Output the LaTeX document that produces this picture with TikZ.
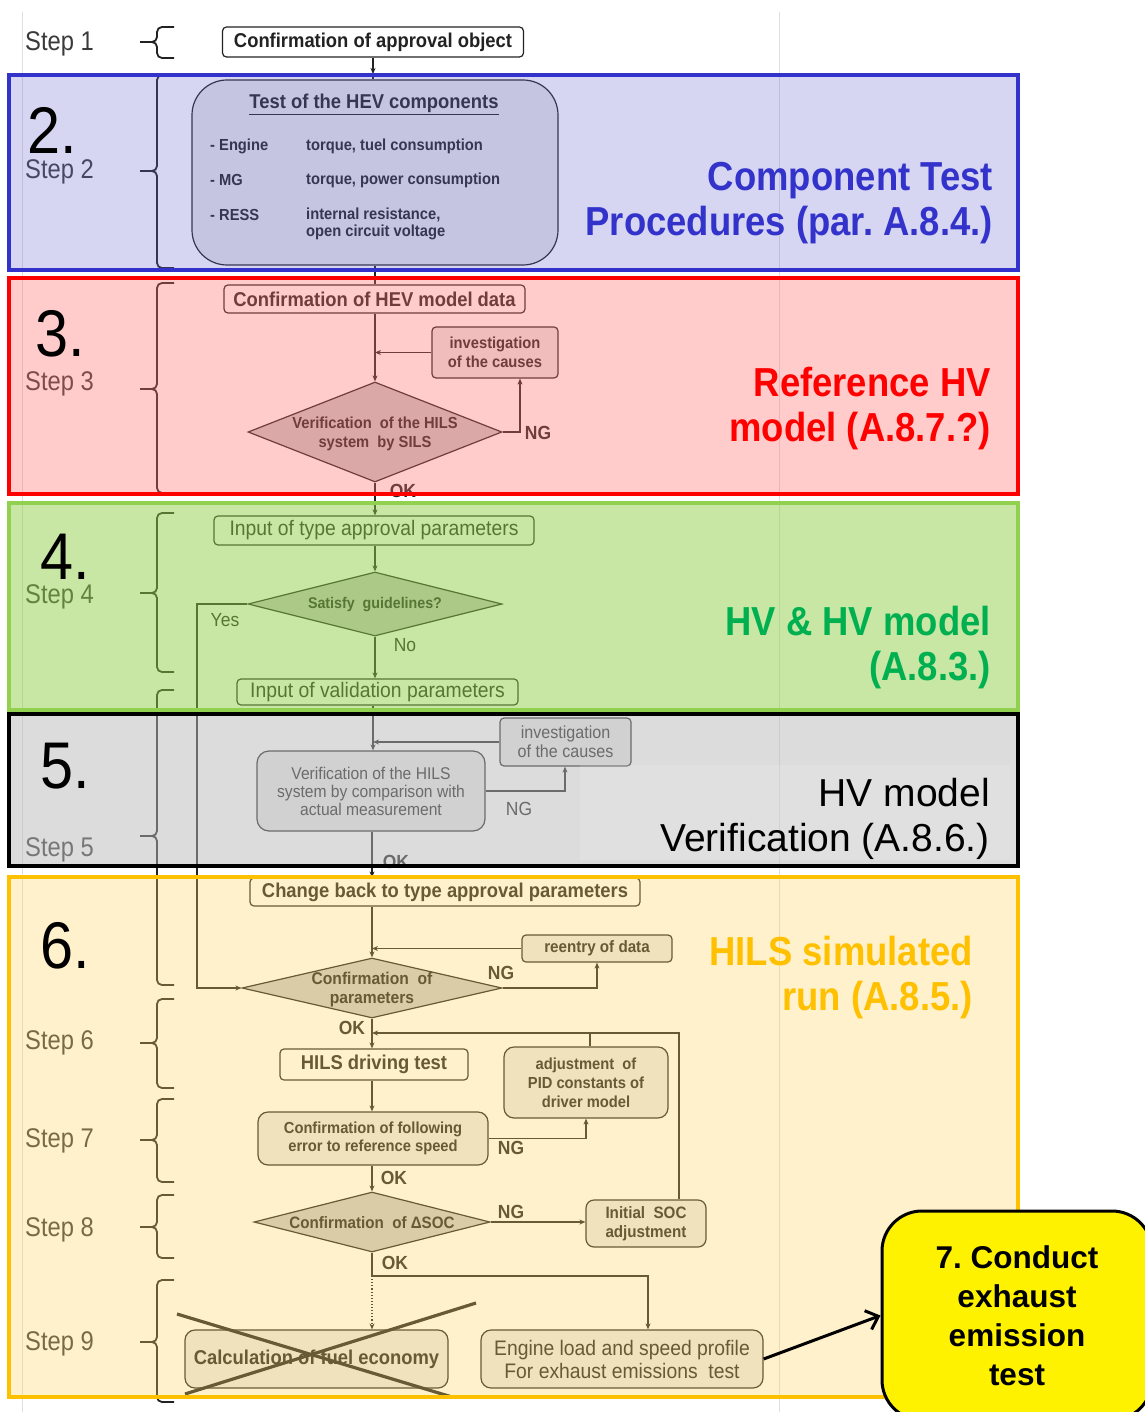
\documentclass[tikz,border=0pt]{standalone}
\usepackage{fontspec}
\setmainfont{Liberation Sans}
\newfontfamily\flowf[FakeStretch=0.92]{Liberation Sans}
\newfontfamily\stepf[FakeStretch=0.88]{Liberation Sans}
\newfontfamily\labf[FakeStretch=0.9]{Liberation Sans}
\usetikzlibrary{shapes.geometric,arrows.meta,calc}
\frenchspacing
\definecolor{ink}{HTML}{222222}
\definecolor{boxg}{HTML}{E8E8E8}
\definecolor{diag}{HTML}{C8C8C8}
\definecolor{ovblue}{RGB}{108,108,209}
\definecolor{ovred}{RGB}{255,110,110}
\definecolor{ovgreen}{RGB}{143,204,71}
\definecolor{ovgray}{RGB}{185,185,185}
\definecolor{ovorange}{RGB}{255,213,92}
\definecolor{bdblue}{HTML}{3333CC}
\definecolor{bdred}{HTML}{FF0000}
\definecolor{bdgreen}{HTML}{92D050}
\definecolor{bdorange}{HTML}{FFC000}
\definecolor{txgreen}{HTML}{00B050}
\definecolor{steptx}{HTML}{3A3A3A}
\newcommand{\fsz}[2]{\fontsize{#1}{#2}\selectfont}
\newcommand{\stepbrace}[3]{%
  \draw[bracestyle] (174,#1) -- (157,#1) -- (157,#2) -- (140,#2);
  \draw[bracestyle] (140,#2) -- (157,#2) -- (157,#3) -- (174,#3);}
\tikzset{
  lin/.style={draw=ink, line width=1.1pt},
  arr/.style={lin, -{Stealth[length=6pt,width=5pt]}},
  fbox/.style={draw=ink, line width=1.2pt, rounded corners=4pt, fill=white, inner sep=0pt, align=center, text=ink},
  gbox/.style={fbox, fill=boxg},
  dia/.style={diamond, draw=ink, line width=1.2pt, fill=diag, inner sep=0pt},
  dtext/.style={align=center, text=ink, inner sep=0pt},
  yn/.style={text=ink, inner sep=0pt, font=\flowf\bfseries\fsz{19}{19}},
  ynr/.style={text=ink, inner sep=0pt, font=\flowf\fsz{19}{19}},
  bracestyle/.style={draw=ink, line width=1.8pt, rounded corners=5pt},
  steplab/.style={anchor=west, text=steptx, inner sep=0pt, font=\stepf\fsz{27}{27}},
  bignum/.style={anchor=west, text=black, inner sep=0pt, text depth=0pt, font=\labf\fsz{66}{66}},
  bandlab/.style={anchor=east, inner sep=0pt, font=\labf\bfseries\fsz{40.5}{45}, align=right},
  band/.style={line width=4pt},
  xline/.style={draw=ink, line width=3.2pt},
}
\begin{document}
\begin{tikzpicture}[x=1pt,y=-1pt]
\useasboundingbox (0,0) rectangle (1144,1412);
\fill[white] (0,0) rectangle (1144,1412);
% page lines
\draw[gray!25, line width=0.8pt] (22,12) -- (22,1412);
\draw[gray!25, line width=0.8pt] (779,12) -- (779,1412);

% step labels and braces
\node[steplab] (s1) at (25,44) {Step 1};
\node[steplab] (s2) at (25,172) {Step 2};
\node[steplab] (s3) at (25,384) {Step 3};
\node[steplab] (s4) at (25,597) {Step 4};
\node[steplab] (s5) at (25,850) {Step 5};
\node[steplab] (s6) at (25,1043) {Step 6};
\node[steplab] (s7) at (25,1141) {Step 7};
\node[steplab] (s8) at (25,1230) {Step 8};
\node[steplab] (s9) at (25,1344) {Step 9};
\stepbrace{27}{42}{58}
\stepbrace{75}{171}{268}
\stepbrace{283}{389}{493}
\stepbrace{513}{593}{672}
\stepbrace{690}{836}{985}
\stepbrace{999}{1043}{1088}
\stepbrace{1099}{1140}{1182}
\stepbrace{1195}{1227}{1258}
\stepbrace{1280}{1342}{1402}

% ---------- flowchart ----------
\node[fbox, minimum width=301pt, minimum height=30pt, font=\flowf\bfseries\fsz{20}{22}] (n1) at (373,42) {Confirmation of approval object};
\node[gbox, rounded corners=35pt, minimum width=366pt, minimum height=185pt] (n2) at (375,172.5) {};
\node[dtext, font=\flowf\bfseries\fsz{20}{22}] (n2t) at (374,104) {\underline{Test of the HEV components}};
\node[dtext, anchor=west, font=\flowf\bfseries\fsz{16}{17}] (i1) at (210,146) {- Engine};
\node[dtext, anchor=west, font=\flowf\bfseries\fsz{16}{17}] (v1) at (306,146) {torque, tuel consumption};
\node[dtext, anchor=west, font=\flowf\bfseries\fsz{16}{17}] (i2) at (210,180) {- MG};
\node[dtext, anchor=west, font=\flowf\bfseries\fsz{16}{17}] (v2) at (306,180) {torque, power consumption};
\node[dtext, anchor=west, font=\flowf\bfseries\fsz{16}{17}] (i3) at (210,215) {- RESS};
\node[dtext, anchor=west, align=left, font=\flowf\bfseries\fsz{16}{16.5}] (v3) at (306,224) {internal resistance,\\open circuit voltage};

\node[fbox, minimum width=301pt, minimum height=28pt, font=\flowf\bfseries\fsz{20}{22}] (n3) at (374.5,299) {Confirmation of HEV model data};
\node[gbox, minimum width=126pt, minimum height=51pt, font=\flowf\bfseries\fsz{16}{19}] (n4) at (495,352.5) {investigation\\of the causes};
\node[dia, minimum width=254pt, minimum height=100pt] (d1) at (375,432) {};
\node[dtext, font=\flowf\bfseries\fsz{16}{19}] (d1t) at (375,434) {Verification \ of the HILS\\system \ by SILS};

\node[fbox, minimum width=320pt, minimum height=29pt, font=\flowf\fsz{21}{22}] (n5) at (374,530.5) {Input of type approval parameters};
\node[dia, minimum width=254pt, minimum height=64pt] (d2) at (375,604) {};
\node[dtext, font=\flowf\bfseries\fsz{15.5}{17}] (d2t) at (375,605) {Satisfy \ guidelines?};
\node[fbox, minimum width=281pt, minimum height=26pt, font=\flowf\fsz{21}{22}] (n6) at (377.5,692) {Input of validation parameters};

\node[gbox, minimum width=131pt, minimum height=48pt, font=\flowf\fsz{17.5}{19}] (n7) at (565.5,742) {investigation\\of the causes};
\node[gbox, rounded corners=12pt, minimum width=228pt, minimum height=80pt, font=\flowf\fsz{17}{18}] (n8) at (371,791) {Verification of the HILS\\system by comparison with\\actual measurement};

\node[fbox, minimum width=390pt, minimum height=28pt, font=\flowf\bfseries\fsz{20}{22}] (n9) at (445,892) {Change back to type approval parameters};
\node[gbox, minimum width=150pt, minimum height=27pt, font=\flowf\bfseries\fsz{16.5}{18}] (n10) at (597,948.5) {reentry of data};
\node[dia, minimum width=260pt, minimum height=60pt] (d3) at (372,988) {};
\node[dtext, font=\flowf\bfseries\fsz{17}{19}] (d3t) at (372,990) {Confirmation \ of\\parameters};

\node[fbox, minimum width=188pt, minimum height=31pt, font=\flowf\bfseries\fsz{20}{22}] (n11) at (374,1064.5) {HILS driving test};
\node[gbox, rounded corners=10pt, minimum width=164pt, minimum height=71pt, font=\flowf\bfseries\fsz{16}{19}] (n12) at (586,1082.5) {adjustment \ of\\PID constants of\\driver model};
\node[gbox, rounded corners=10pt, minimum width=230pt, minimum height=53pt, font=\flowf\bfseries\fsz{16}{18.5}] (n13) at (373,1138.5) {Confirmation of following\\error to reference speed};
\node[dia, minimum width=236pt, minimum height=60pt] (d4) at (372,1222) {};
\node[dtext, font=\flowf\bfseries\fsz{16.5}{18}] (d4t) at (372,1223) {Confirmation \ of ΔSOC};
\node[gbox, rounded corners=8pt, minimum width=120pt, minimum height=47pt, font=\flowf\bfseries\fsz{16.5}{19}] (n14) at (646,1223.5) {Initial \ SOC\\adjustment};

\node[gbox, rounded corners=10pt, minimum width=263pt, minimum height=58pt, font=\flowf\bfseries\fsz{20}{22}] (n15) at (316.5,1359) {Calculation of fuel economy};
\node[gbox, rounded corners=10pt, minimum width=282pt, minimum height=58pt, font=\flowf\fsz{21}{23}] (n16) at (622,1359) {Engine load and speed profile\\For exhaust emissions \ test};

% coordinates
\coordinate (mx) at (373,0);
\coordinate (mx2) at (372,0);
\coordinate (yesx) at (197,0);
\coordinate (ng3) at (520,0);
\coordinate (ng5) at (565,0);
\coordinate (loopy) at (0,1033);
\coordinate (loopx) at (679,0);
\coordinate (pidx) at (590,0);
\coordinate (split) at (372,1276);
\coordinate (engx) at (648,0);
\coordinate (bluetop) at (0,74);

% connectors
\draw[arr] (n1.south) -- (n1.south |- bluetop);
\draw[lin] (n1.south |- bluetop) -- (n1.south |- n2.north);
\draw[lin] (n2.south) -- (n2.south |- n3.north);
\draw[arr] (n3.south -| d1.north) -- (d1.north);
\draw[arr] (n4.west) -- (n4.west -| d1.north);
\draw[arr] (d1.east) -| (n4.south -| ng3);
\draw[arr] (d1.south) -- (d1.south |- n5.north);
\draw[arr] (n5.south -| d2.north) -- (d2.north);
\draw[arr] (d2.south) -- (d2.south |- n6.north);
\draw[arr] (d2.west) -- (d2.west -| yesx) -- (yesx |- d3.west) -- (d3.west);
\draw[arr] (n6.south -| mx) -- (n8.north -| mx);
\draw[arr] (n7.west) -- (n7.west -| mx);
\draw[arr] (n8.east) -| (n7.south -| ng5);
\draw[arr] (n8.south -| mx2) -- (n9.north -| mx2);
\draw[arr] (n9.south -| mx2) -- (d3.north);
\draw[arr] (n10.west) -- (n10.west -| mx2);
\draw[arr] (d3.east) -| (n10.south);
\draw[arr] (d3.south) -- (n11.north -| d3.south);
\draw[arr] (n14.north -| loopx) -- (loopx |- loopy) -- (loopy -| mx2);
\draw[lin] (n12.north -| pidx) -- (pidx |- loopy);
\draw[arr] (n11.south -| mx2) -- (n13.north -| mx2);
\draw[arr] (n13.east) -| (n12.south);
\draw[arr] (n13.south -| mx2) -- (d4.north);
\draw[arr] (d4.east) -- (n14.west |- d4.east);
\draw[lin] (d4.south) -- (split);
\draw[arr, dotted] (split) -- (n15.north -| split);
\draw[arr] (split) -- (split -| engx) -- (n16.north -| engx);

% labels
\node[yn] (l1) at (538,433) {NG};
\node[yn] (l2) at (403,491) {OK};
\node[ynr] (l3) at (225,620) {Yes};
\node[ynr] (l4) at (405,645) {No};
\node[ynr] (l5) at (519,809) {NG};
\node[yn] (l6) at (396,862) {OK};
\node[yn] (l7) at (501,973) {NG};
\node[yn] (l8) at (352,1028) {OK};
\node[yn] (l9) at (511,1148) {NG};
\node[yn] (l10) at (394,1178) {OK};
\node[yn] (l11) at (511,1212) {NG};
\node[yn] (l12) at (395,1263) {OK};

% cross-out
\draw[xline] (177,1314) -- (452,1397);
\draw[xline] (476,1303) -- (185,1394);

% ---------- band overlays ----------
\fill[ovblue, fill opacity=0.28] (9,75) rectangle (1018,270);
\fill[ovred, fill opacity=0.353] (9,278) rectangle (1018,494);
\fill[ovgreen, fill opacity=0.49] (9,503) rectangle (1018,710);
\fill[ovgray, fill opacity=0.486] (9,714) rectangle (1018,866);
\fill[white, fill opacity=0.12] (580,765) rectangle (1010,860);
\fill[ovorange, fill opacity=0.314] (9,877) rectangle (1018,1397);
\draw[band, bdblue] (9,75) rectangle (1018,270);
\draw[band, bdred] (9,278) rectangle (1018,494);
\draw[band, bdgreen] (9,503) rectangle (1018,710);
\draw[band, black] (9,714) rectangle (1018,866);
\draw[band, bdorange] (9,877) rectangle (1018,1397);

% big numbers
\node[bignum] (b2) at (27,130) {2.};
\node[bignum] (b3) at (35,333) {3.};
\node[bignum] (b4) at (40,557) {4.};
\node[bignum] (b5) at (40,766) {5.};
\node[bignum] (b6) at (40,945) {6.};

% band labels
\node[bandlab, text=bdblue] (t1) at (993,203.5) {Component Test\\Procedures (par. A.8.4.)};
\node[bandlab, text=bdred] (t2) at (991,408.5) {Reference HV\\model (A.8.7.?)};
\node[bandlab, text=txgreen] (t3) at (991,648) {HV \& HV model\\(A.8.3.)};
\node[anchor=east, inner sep=0pt, align=right, text=black, font=\fsz{39}{45}] (t4) at (990,818.5) {HV model\\Verification (A.8.6.)};
\node[bandlab, text=bdorange] (t5) at (973,977.5) {HILS simulated\\run (A.8.5.)};

% final box
\node[draw=black, line width=3pt, fill=yellow, rounded corners=40pt, minimum width=270pt, minimum height=209pt, inner sep=0pt, align=center, font=\bfseries\fsz{31.5}{39}] (n17) at (1017,1315.5) {7. Conduct\\exhaust\\emission\\test};
\draw[black, line width=3pt, -{Straight Barb[length=11pt,width=20pt]}] (n16.east) -- (n17.west);
\end{tikzpicture}
\end{document}
